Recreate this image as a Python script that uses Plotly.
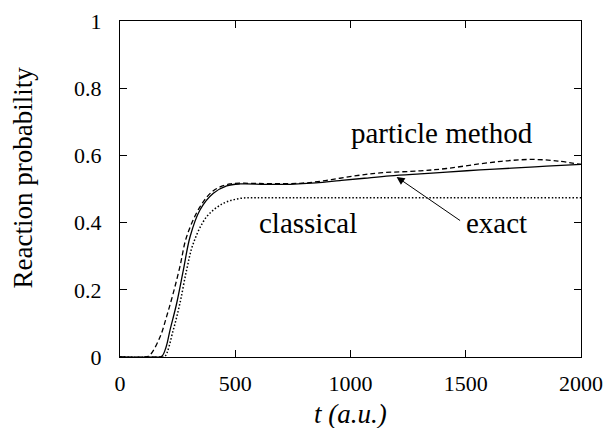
import plotly.graph_objects as go

# Exact (solid)
t_exact = [0, 150, 181, 200, 217, 246, 275, 304, 347, 405, 463, 521, 630, 738, 850, 954, 1060, 1171, 1302, 1417, 1562, 1700, 1850, 2000]
p_exact = [0, 0, 0.002, 0.03, 0.08, 0.16, 0.259, 0.358, 0.4375, 0.487, 0.509, 0.515, 0.514, 0.514, 0.518, 0.525, 0.532, 0.539, 0.545, 0.550, 0.557, 0.562, 0.568, 0.573]

# Particle method (dashed)
t_part = [0, 110, 130, 174, 202, 231, 260, 289, 347, 405, 477, 564, 650, 781, 870, 954, 1040, 1128, 1302, 1417, 1562, 1680, 1793, 1900, 2000]
p_part = [0, 0, 0.006, 0.06, 0.12, 0.19, 0.269, 0.358, 0.447, 0.495, 0.515, 0.517, 0.516, 0.517, 0.523, 0.532, 0.541, 0.548, 0.554, 0.561, 0.575, 0.584, 0.588, 0.583, 0.573]

# Classical (dotted)
t_class = [0, 180, 195, 231, 260, 289, 318, 376, 448, 521, 593, 800, 1200, 1600, 2000]
p_class = [0, 0, 0.002, 0.08, 0.16, 0.259, 0.338, 0.4175, 0.457, 0.472, 0.474, 0.474, 0.474, 0.474, 0.474]

x_ticks = [0, 500, 1000, 1500, 2000]
y_ticks = [0, 0.2, 0.4, 0.6, 0.8, 1]
y_tick_text = ["0", "0.2", "0.4", "0.6", "0.8", "1"]

FONT = "Liberation Serif"

fig = go.Figure()
fig.add_trace(go.Scatter(x=t_exact, y=p_exact, mode="lines", line=dict(color="black", width=1.3, shape="spline"), name="exact"))
fig.add_trace(go.Scatter(x=t_part, y=p_part, mode="lines", line=dict(color="black", width=1.3, dash="5px,3px", shape="spline"), name="particle method"))
fig.add_trace(go.Scatter(x=t_class, y=p_class, mode="lines", line=dict(color="black", width=1.5, dash="1.5px,2px", shape="spline"), name="classical"))

fig.add_annotation(x=1396, y=0.667, text="particle method", showarrow=False, font=dict(family=FONT, size=29, color="black"))
fig.add_annotation(x=817, y=0.398, text="classical", showarrow=False, font=dict(family=FONT, size=29, color="black"))
fig.add_annotation(x=1634, y=0.398, text="exact", showarrow=False, font=dict(family=FONT, size=29, color="black"))
fig.add_annotation(x=1200, y=0.536, ax=1482, ay=0.403, axref="x", ayref="y", text="", showarrow=True,
                   arrowhead=2, arrowsize=1.6, arrowwidth=1, arrowcolor="black")
# axis titles placed as text
fig.add_annotation(x=-0.21, y=0.535, xref="paper", yref="paper", xanchor="center", yanchor="middle",
                   text="Reaction probability", textangle=-90,
                   showarrow=False, font=dict(family=FONT, size=27, color="black"))
fig.add_annotation(x=0.5, y=-0.171, xref="paper", yref="paper", xanchor="center", yanchor="middle",
                   text="<i>t (a.u.)</i>", showarrow=False, font=dict(family=FONT, size=27, color="black"))

axis_common = dict(showline=True, linecolor="black", linewidth=1.3, mirror="allticks", ticks="inside",
                   ticklen=7, tickwidth=1, tickcolor="black", showgrid=False, zeroline=False,
                   automargin=False, tickfont=dict(family=FONT, size=22, color="black"))

fig.update_xaxes(range=[0, 2000], tickvals=x_ticks, ticklabelstandoff=6, **axis_common)
fig.update_yaxes(range=[0, 1], tickvals=y_ticks, ticktext=y_tick_text, ticklabelstandoff=13, **axis_common)

fig.update_layout(width=610, height=428, margin=dict(l=120, r=29, t=21, b=71),
                  plot_bgcolor="white", paper_bgcolor="white", showlegend=False,
                  font=dict(family=FONT, color="black"))

fig.write_html("out.html", config={"displayModeBar": False}, post_script="document.body.style.margin='0';")
